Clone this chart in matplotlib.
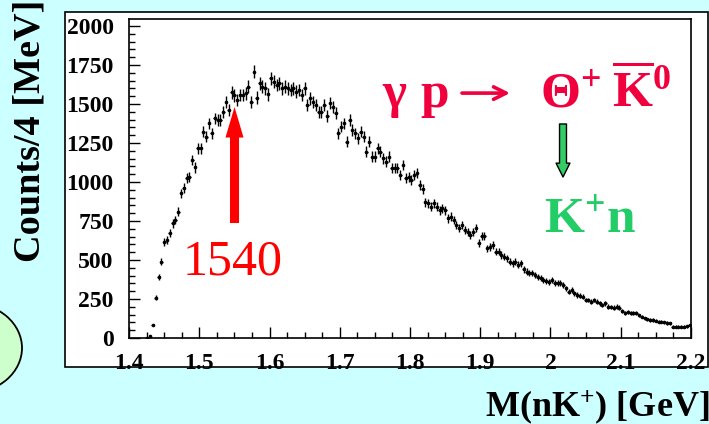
import numpy as np
import matplotlib
matplotlib.use('Agg')
import matplotlib.pyplot as plt
from matplotlib.patches import Rectangle, Ellipse

# ── data: counts per 4 MeV bin, 1.400 … 2.200 GeV ──────────────────────────
bin_lo, bin_hi, bin_w = 1.4, 2.2, 0.004
counts = [
    0, 0, 0, 0, 0, 0, 3, 10, 83, 258,
    393, 489, 617, 629, 671, 735, 756, 810, 927, 960,
    1024, 1034, 1141, 1094, 1216, 1216, 1322, 1290, 1376, 1312,
    1408, 1397, 1397, 1451, 1515, 1461, 1575, 1555, 1526, 1558,
    1558, 1568, 1611, 1515, 1707, 1541, 1633, 1611, 1601, 1562,
    1665, 1643, 1622, 1633, 1601, 1611, 1601, 1590, 1601, 1579,
    1590, 1558, 1601, 1494, 1536, 1515, 1494, 1451, 1451, 1494,
    1425, 1504, 1483, 1440, 1312, 1355, 1376, 1258, 1397, 1333,
    1312, 1280, 1322, 1290, 1194, 1258, 1162, 1162, 1216, 1194,
    1152, 1130, 1162, 1088, 1088, 1088, 1045, 1109, 1024, 1034,
    1013, 1045, 1056, 981, 955, 870, 863, 842, 863, 842,
    820, 831, 820, 767, 778, 756, 724, 703, 724, 692,
    681, 660, 681, 703, 607, 654, 654, 575, 585, 596,
    553, 553, 532, 521, 511, 489, 479, 489, 470, 479,
    440, 425, 415, 415, 404, 393, 382, 372, 368, 361,
    372, 355, 350, 350, 340, 318, 297, 307, 286, 276,
    270, 265, 244, 244, 233, 244, 233, 222, 212, 222,
    201, 200, 195, 201, 195, 175, 158, 169, 158, 160,
    158, 145, 137, 126, 120, 115, 115, 110, 105, 105,
    100, 96, 94, 72, 72, 72, 72, 72, 75, 83,
]

x_ticks = [1.4, 1.5, 1.6, 1.7, 1.8, 1.9, 2.0, 2.1, 2.2]
x_tick_labels = ['1.4', '1.5', '1.6', '1.7', '1.8', '1.9', '2', '2.1', '2.2']
y_ticks = [0, 250, 500, 750, 1000, 1250, 1500, 1750, 2000]

peak_mass = 1.540

# ── style ──────────────────────────────────────────────────────────────────
plt.rcParams['font.family'] = ['Liberation Serif', 'DejaVu Serif']
plt.rcParams['font.weight'] = 'bold'
plt.rcParams['mathtext.fontset'] = 'custom'
plt.rcParams['mathtext.rm'] = 'Liberation Serif:bold'
plt.rcParams['mathtext.bf'] = 'Liberation Serif:bold'
plt.rcParams['mathtext.it'] = 'Liberation Serif:bold'

BG = '#ccffff'
RED = '#ff0000'
CRIMSON = '#f0003c'
GREEN = '#22cc66'

W, H = 709, 424
fig = plt.figure(figsize=(W / 100, H / 100), dpi=100, facecolor=BG)

def fx(px):
    return px / W

def fy(py):
    return 1 - py / H

# white frame behind the histogram
fig.patches.append(Rectangle((fx(65), fy(367)), fx(708) - fx(65), fy(12) - fy(367),
                             transform=fig.transFigure, facecolor='white',
                             edgecolor='black', lw=1.2, zorder=-2))
# green blob peeking in at the left edge
fig.patches.append(Ellipse((fx(-31), fy(348)), 106 / W, 90 / H,
                           transform=fig.transFigure, facecolor='#ccffcc',
                           edgecolor='black', lw=1.3, zorder=-2))

ax = fig.add_axes([fx(129), fy(338), fx(691) - fx(129), fy(19) - fy(338)])
ax.set_zorder(2)
ax.set_facecolor('white')

counts = np.array(counts, dtype=float)
centers = bin_lo + bin_w / 2 + bin_w * np.arange(len(counts))
keep = counts > 0
ax.errorbar(centers[keep], counts[keep], yerr=np.sqrt(counts[keep]), xerr=bin_w / 2,
            fmt='o', ms=1.6, color='black', ecolor='black', elinewidth=1.0,
            capsize=0, zorder=3)

ax.set_xlim(bin_lo, bin_hi)
ax.set_ylim(0, 2045)

ax.set_xticks(x_ticks)
ax.set_xticklabels(x_tick_labels)
ax.set_xticks(np.arange(1.4, 2.2001, 0.025), minor=True)
ax.set_yticks(y_ticks)
ax.set_yticks(np.arange(0, 2001, 50), minor=True)
ax.tick_params(which='both', direction='in', top=False, right=False,
               labelsize=17, width=1.0, color='black')
ax.tick_params(which='major', length=8, pad=11)
ax.tick_params(which='minor', length=4)
for lab in ax.get_xticklabels() + ax.get_yticklabels():
    lab.set_fontweight('bold')
for sp in ax.spines.values():
    sp.set_linewidth(1.2)

# axis titles
fig.text(fx(30), fy(262), 'Counts/4 [MeV]', rotation=90, ha='center', va='bottom',
         fontsize=27.5, fontweight='bold', color='black')
fig.text(fx(485), fy(417), r'M(nK$^{+}$) [GeV]', ha='left', va='baseline',
         fontsize=26, fontweight='bold', color='black')

# red arrow and mass label
ax.annotate('', xy=(1.5502, 1481), xytext=(1.5502, 737),
            arrowprops=dict(arrowstyle='simple,head_length=22,head_width=13,tail_width=6.5',
                            mutation_scale=1, color=RED, lw=0, shrinkA=0, shrinkB=0),
            zorder=4)
ax.text(1.548, 404, f'{peak_mass * 1000:.0f}', ha='center', va='baseline',
        fontsize=36, fontweight='normal', color=RED)

# reaction  γ p → Θ+ K̄0
ax.text(1.760, 1481, r'$\gamma\ \mathrm{p}$', ha='left', va='baseline',
        fontsize=37, color=CRIMSON)
ax.annotate('', xy=(1.9424, 1570), xytext=(1.8740, 1570),
            arrowprops=dict(arrowstyle='->,head_length=0.9,head_width=0.45',
                            color=CRIMSON, lw=2.6, shrinkA=0, shrinkB=0))
ax.text(1.9850, 1481, r'$\Theta^{+}$', ha='left', va='baseline',
        fontsize=37, color=CRIMSON)
ax.text(2.0877, 1481, r'$\overline{\mathrm{K}}^{0}$', ha='left', va='baseline',
        fontsize=37, color=CRIMSON)

ax.annotate('', xy=(2.0178, 1032), xytext=(2.0178, 1372),
            arrowprops=dict(arrowstyle='simple,head_length=10,head_width=10,tail_width=5',
                            mutation_scale=1, facecolor='#33cc66', edgecolor='black',
                            lw=1.0, shrinkA=0, shrinkB=0),
            zorder=4)
ax.text(2.0555, 680, r'K$^{+}$n', ha='center', va='baseline',
        fontsize=37, fontweight='bold', color=GREEN)

fig.savefig('out.png', dpi=100, facecolor=BG)
